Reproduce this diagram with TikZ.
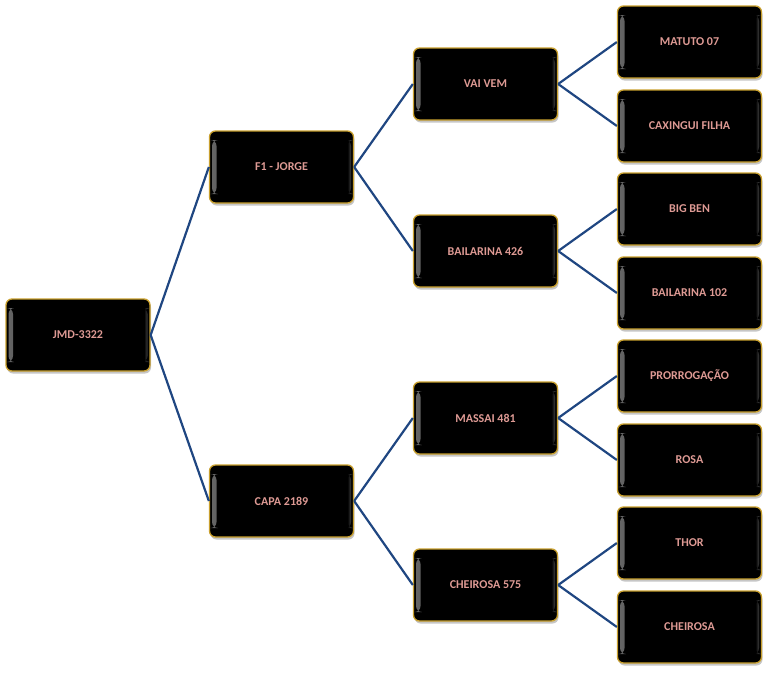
\documentclass[tikz,border=0pt]{standalone}
\usepackage{fontspec}
\setmainfont{Carlito}
\usetikzlibrary{shadows}
\definecolor{boxgold}{HTML}{C9A02E}
\definecolor{namepink}{HTML}{DE9A94}
\definecolor{linkblue}{HTML}{1F4681}
\tikzset{
	animal/.style={draw=boxgold, line width=1.3pt, fill=black, rounded corners=6pt,
			minimum width=144pt, minimum height=72pt, inner sep=0pt,
			text=namepink, font=\bfseries\fontsize{12}{14}\selectfont,
			drop shadow={shadow xshift=1pt, shadow yshift=-2.5pt, fill=black!50, opacity=0.45},
			path picture={
					\shade[left color=black!60, right color=black]
					([xshift=2.5pt,yshift=-9pt]path picture bounding box.north west)
					rectangle ([xshift=7pt,yshift=9pt]path picture bounding box.south west);
					\shade[left color=black, right color=black!75]
					([xshift=-6pt,yshift=-9pt]path picture bounding box.north east)
					rectangle ([xshift=-2.5pt,yshift=9pt]path picture bounding box.south east);
				}},
	link/.style={draw=linkblue, line width=2.2pt}
}
\begin{document}
\begin{tikzpicture}[x=1pt,y=-1pt]
	\useasboundingbox (0,0) rectangle (768,672);

	% animal
	\node[animal] (jmd) at (78,335) {JMD-3322};

	% parents
	\node[animal] (jorge) at (281.5,167) {F1 - JORGE};
	\node[animal] (capa) at (281.5,501) {CAPA 2189};

	% grandparents
	\node[animal] (vaivem) at (485.5,84) {VAI VEM};
	\node[animal] (bail426) at (485.5,251) {BAILARINA 426};
	\node[animal] (massai) at (485.5,418) {MASSAI 481};
	\node[animal] (cheir575) at (485.5,585) {CHEIROSA 575};

	% great-grandparents
	\node[animal] (matuto) at (689.5,42) {MATUTO 07};
	\node[animal] (caxingui) at (689.5,126) {CAXINGUI FILHA};
	\node[animal] (bigben) at (689.5,209) {BIG BEN};
	\node[animal] (bail102) at (689.5,293) {BAILARINA 102};
	\node[animal] (prorrog) at (689.5,376) {PRORROGAÇÃO};
	\node[animal] (rosa) at (689.5,460) {ROSA};
	\node[animal] (thor) at (689.5,543) {THOR};
	\node[animal] (cheirosa) at (689.5,627) {CHEIROSA};

	% links
	\draw[link] (jmd.east) -- (jorge.west);
	\draw[link] (jmd.east) -- (capa.west);
	\draw[link] (jorge.east) -- (vaivem.west);
	\draw[link] (jorge.east) -- (bail426.west);
	\draw[link] (capa.east) -- (massai.west);
	\draw[link] (capa.east) -- (cheir575.west);
	\draw[link] (vaivem.east) -- (matuto.west);
	\draw[link] (vaivem.east) -- (caxingui.west);
	\draw[link] (bail426.east) -- (bigben.west);
	\draw[link] (bail426.east) -- (bail102.west);
	\draw[link] (massai.east) -- (prorrog.west);
	\draw[link] (massai.east) -- (rosa.west);
	\draw[link] (cheir575.east) -- (thor.west);
	\draw[link] (cheir575.east) -- (cheirosa.west);
\end{tikzpicture}
\end{document}
